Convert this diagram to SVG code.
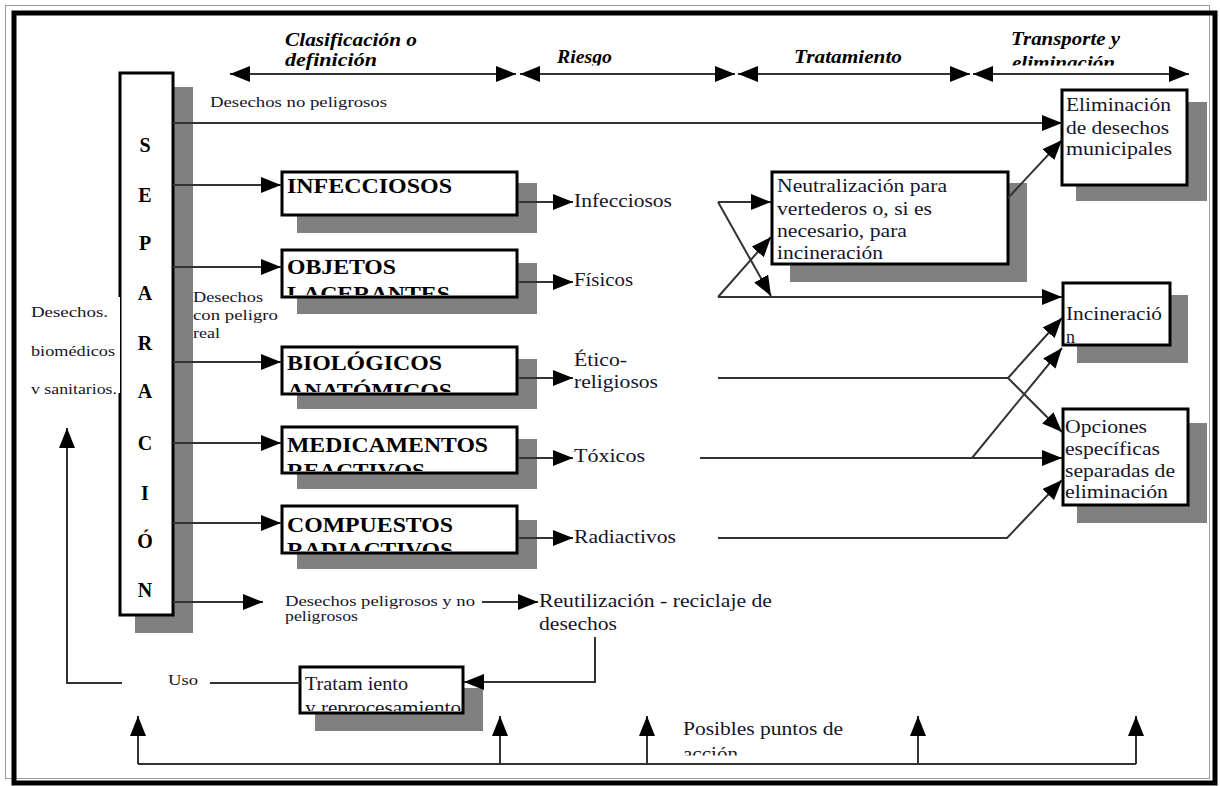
<svg xmlns="http://www.w3.org/2000/svg" width="1220" height="786" viewBox="0 0 1220 786">
  <style>
    .bx { fill: #fff; stroke: #000; stroke-width: 3; }
    .sh { fill: #808080; }
    .t { font-family: "Liberation Serif", "Times New Roman", serif; fill: #15152a; }
    .r15 { font-size: 15px; }
    .r18 { font-size: 18px; }
    .r19 { font-size: 19px; }
    .bb { font-family: "Liberation Serif", "Times New Roman", serif; font-weight: bold; font-size: 21px; fill: #000; }
    .hd { font-family: "Liberation Serif", "Times New Roman", serif; font-weight: bold; font-style: italic; font-size: 18px; fill: #000; }
    .ln { fill: none; stroke: #333; stroke-width: 2; }
    .ar { marker-end: url(#ah); }
    .dbl { marker-start: url(#ah); marker-end: url(#ah); }
  </style>
  <defs>
    <marker id="ah" viewBox="0 0 20 16" refX="20" refY="8" markerWidth="20" markerHeight="16" markerUnits="userSpaceOnUse" orient="auto-start-reverse">
      <path d="M0,0 L20,8 L0,16 Z" fill="#000"/>
    </marker>
    <clipPath id="clipHead"><rect x="0" y="0" width="1220" height="65.5"/></clipPath>
    <clipPath id="clipObj"><rect x="282" y="250" width="235" height="45"/></clipPath>
    <clipPath id="clipBio"><rect x="282" y="347" width="235" height="45"/></clipPath>
    <clipPath id="clipMed"><rect x="282" y="427" width="235" height="44"/></clipPath>
    <clipPath id="clipCom"><rect x="282" y="506" width="235" height="45"/></clipPath>
    <clipPath id="clipTrat"><rect x="300" y="667" width="163" height="44"/></clipPath>
    <clipPath id="clipAcc"><rect x="600" y="700" width="300" height="55.5"/></clipPath>
  </defs>

  <rect x="0" y="0" width="1220" height="786" fill="#fff"/>

  <!-- page frame -->
  <g id="frame">
    <rect x="5.5" y="5.5" width="1204" height="773" fill="none" stroke="#9a9a9a" stroke-width="1"/>
    <rect x="14" y="13" width="1201" height="770" fill="none" stroke="#000" stroke-width="5"/>
  </g>

  <!-- column headings -->
  <g id="headings">
    <text class="hd" x="285" y="46" textLength="132" lengthAdjust="spacingAndGlyphs">Clasificación o</text>
    <text class="hd" x="285" y="66" textLength="92" lengthAdjust="spacingAndGlyphs">definición</text>
    <g clip-path="url(#clipHead)">
      <text class="hd" x="557" y="63" textLength="55" lengthAdjust="spacingAndGlyphs">Riesgo</text>
      <text class="hd" x="794" y="63" textLength="108" lengthAdjust="spacingAndGlyphs">Tratamiento</text>
      <text class="hd" x="1011" y="45" textLength="109" lengthAdjust="spacingAndGlyphs">Transporte y</text>
      <text class="hd" x="1012" y="69" textLength="103" lengthAdjust="spacingAndGlyphs">eliminación</text>
    </g>
  </g>

  <!-- separation column -->
  <g id="separacion">
    <rect class="sh" x="135" y="87" width="58" height="546"/>
    <rect class="bx" x="120" y="73" width="53" height="542"/>
    <g class="bb" text-anchor="middle" style="font-size:20px">
      <text x="145" y="152">S</text>
      <text x="145" y="202">E</text>
      <text x="145" y="250">P</text>
      <text x="145" y="300">A</text>
      <text x="145" y="350">R</text>
      <text x="145" y="398">A</text>
      <text x="145" y="450">C</text>
      <text x="145" y="500">I</text>
      <text x="145" y="548">Ó</text>
      <text x="145" y="597">N</text>
    </g>
  </g>

  <g id="label-biomedicos">
    <rect x="26" y="297" width="94" height="96" fill="#fff"/>
    <text class="t r15" x="31" y="317" textLength="77" lengthAdjust="spacingAndGlyphs">Desechos.</text>
    <text class="t r15" x="31" y="356" textLength="84" lengthAdjust="spacingAndGlyphs">biomédicos</text>
    <text class="t r15" x="31" y="394" textLength="86" lengthAdjust="spacingAndGlyphs">v sanitarios.</text>
  </g>

  <g id="label-no-peligrosos">
    <text class="t r15" x="210" y="107" textLength="177" lengthAdjust="spacingAndGlyphs">Desechos no peligrosos</text>
  </g>

  <g id="label-peligro-real">
    <text class="t r15" x="193" y="302" textLength="70" lengthAdjust="spacingAndGlyphs">Desechos</text>
    <text class="t r15" x="193" y="320" textLength="85" lengthAdjust="spacingAndGlyphs">con peligro</text>
    <text class="t r15" x="193" y="338" textLength="27" lengthAdjust="spacingAndGlyphs">real</text>
  </g>

  <!-- classification boxes -->
  <g id="infecciosos">
    <rect class="sh" x="297" y="183" width="240" height="50"/>
    <rect class="bx" x="282" y="172" width="235" height="43"/>
    <text class="bb" x="287" y="193" textLength="165" lengthAdjust="spacingAndGlyphs">INFECCIOSOS</text>
  </g>
  <g id="objetos">
    <rect class="sh" x="297" y="263" width="240" height="51"/>
    <rect class="bx" x="282" y="250" width="235" height="47"/>
    <g clip-path="url(#clipObj)">
      <text class="bb" x="287" y="274" textLength="109" lengthAdjust="spacingAndGlyphs">OBJETOS</text>
      <text class="bb" x="287" y="301" textLength="163" lengthAdjust="spacingAndGlyphs">LACERANTES</text>
    </g>
  </g>
  <g id="biologicos">
    <rect class="sh" x="297" y="359" width="240" height="50"/>
    <rect class="bx" x="282" y="347" width="235" height="47"/>
    <g clip-path="url(#clipBio)">
      <text class="bb" x="287" y="370" textLength="155" lengthAdjust="spacingAndGlyphs">BIOLÓGICOS</text>
      <text class="bb" x="287" y="398" textLength="165" lengthAdjust="spacingAndGlyphs">ANATÓMICOS</text>
    </g>
  </g>
  <g id="medicamentos">
    <rect class="sh" x="297" y="439" width="240" height="50"/>
    <rect class="bx" x="282" y="427" width="235" height="46"/>
    <g clip-path="url(#clipMed)">
      <text class="bb" x="287" y="452" textLength="201" lengthAdjust="spacingAndGlyphs">MEDICAMENTOS</text>
      <text class="bb" x="287" y="478" textLength="138" lengthAdjust="spacingAndGlyphs">REACTIVOS</text>
    </g>
  </g>
  <g id="compuestos">
    <rect class="sh" x="297" y="520" width="240" height="49"/>
    <rect class="bx" x="282" y="506" width="235" height="47"/>
    <g clip-path="url(#clipCom)">
      <text class="bb" x="287" y="532" textLength="166" lengthAdjust="spacingAndGlyphs">COMPUESTOS</text>
      <text class="bb" x="287" y="557" textLength="166" lengthAdjust="spacingAndGlyphs">RADIACTIVOS</text>
    </g>
  </g>

  <!-- risk labels -->
  <g id="riesgo-infecciosos"><text class="t r19" x="574" y="207" textLength="98" lengthAdjust="spacingAndGlyphs">Infecciosos</text></g>
  <g id="riesgo-fisicos"><text class="t r19" x="574" y="286" textLength="59" lengthAdjust="spacingAndGlyphs">Físicos</text></g>
  <g id="riesgo-etico">
    <text class="t r19" x="574" y="366" textLength="53" lengthAdjust="spacingAndGlyphs">Ético-</text>
    <text class="t r19" x="574" y="388" textLength="84" lengthAdjust="spacingAndGlyphs">religiosos</text>
  </g>
  <g id="riesgo-toxicos"><text class="t r19" x="574" y="462" textLength="71" lengthAdjust="spacingAndGlyphs">Tóxicos</text></g>
  <g id="riesgo-radiactivos"><text class="t r19" x="574" y="543" textLength="102" lengthAdjust="spacingAndGlyphs">Radiactivos</text></g>

  <!-- treatment -->
  <g id="neutralizacion">
    <rect class="sh" x="790" y="183" width="237" height="99"/>
    <rect class="bx" x="772" y="172" width="236" height="92"/>
    <text class="t r18" x="777" y="192" textLength="170" lengthAdjust="spacingAndGlyphs">Neutralización para</text>
    <text class="t r18" x="777" y="215" textLength="155" lengthAdjust="spacingAndGlyphs">vertederos o, si es</text>
    <text class="t r18" x="777" y="237" textLength="130" lengthAdjust="spacingAndGlyphs">necesario, para</text>
    <text class="t r18" x="777" y="259" textLength="106" lengthAdjust="spacingAndGlyphs">incineración</text>
  </g>

  <!-- disposal -->
  <g id="eliminacion-municipal">
    <rect class="sh" x="1076" y="102" width="131" height="99"/>
    <rect class="bx" x="1062" y="90" width="125" height="95"/>
    <text class="t r18" x="1066" y="111" textLength="105" lengthAdjust="spacingAndGlyphs">Eliminación</text>
    <text class="t r18" x="1066" y="134" textLength="103" lengthAdjust="spacingAndGlyphs">de desechos</text>
    <text class="t r18" x="1066" y="155" textLength="106" lengthAdjust="spacingAndGlyphs">municipales</text>
  </g>
  <g id="incineracion">
    <rect class="sh" x="1077" y="295" width="111" height="68"/>
    <rect class="bx" x="1063" y="283" width="107" height="62"/>
    <text class="t r18" x="1066" y="320" textLength="96" lengthAdjust="spacingAndGlyphs">Incineració</text>
    <text class="t r18" x="1066" y="343">n</text>
  </g>
  <g id="opciones">
    <rect class="sh" x="1077" y="423" width="130" height="100"/>
    <rect class="bx" x="1063" y="409" width="125" height="96"/>
    <text class="t r18" x="1065" y="433" textLength="82" lengthAdjust="spacingAndGlyphs">Opciones</text>
    <text class="t r18" x="1065" y="455" textLength="95" lengthAdjust="spacingAndGlyphs">específicas</text>
    <text class="t r18" x="1065" y="477" textLength="110" lengthAdjust="spacingAndGlyphs">separadas de</text>
    <text class="t r18" x="1065" y="498" textLength="103" lengthAdjust="spacingAndGlyphs">eliminación</text>
  </g>

  <!-- reuse loop -->
  <g id="label-mixtos">
    <text class="t r15" x="285" y="606" textLength="190" lengthAdjust="spacingAndGlyphs">Desechos peligrosos y no</text>
    <text class="t r15" x="285" y="621" textLength="73" lengthAdjust="spacingAndGlyphs">peligrosos</text>
  </g>
  <g id="reutilizacion">
    <text class="t r18" x="539" y="607" textLength="233" lengthAdjust="spacingAndGlyphs">Reutilización - reciclaje de</text>
    <text class="t r18" x="539" y="630" textLength="78" lengthAdjust="spacingAndGlyphs">desechos</text>
  </g>
  <g id="tratamiento">
    <rect class="sh" x="315" y="688" width="168" height="43"/>
    <rect class="bx" x="300" y="667" width="163" height="46"/>
    <g clip-path="url(#clipTrat)">
      <text class="t r18" x="305" y="690" textLength="103" lengthAdjust="spacingAndGlyphs">Tratam iento</text>
      <text class="t r18" x="305" y="714" textLength="156" lengthAdjust="spacingAndGlyphs">y reprocesamiento</text>
    </g>
  </g>
  <g id="label-uso">
    <text class="t r15" x="168" y="685" textLength="30" lengthAdjust="spacingAndGlyphs">Uso</text>
  </g>
  <g id="label-puntos">
    <text class="t r18" x="683" y="735" textLength="160" lengthAdjust="spacingAndGlyphs">Posibles puntos de</text>
    <g clip-path="url(#clipAcc)">
      <text class="t r18" x="683" y="760" textLength="55" lengthAdjust="spacingAndGlyphs">acción</text>
    </g>
  </g>

  <!-- connectors -->
  <g id="connectors">
    <!-- heading spans -->
    <line class="ln dbl" x1="230" y1="74" x2="516" y2="74"/>
    <line class="ln dbl" x1="520" y1="74" x2="735" y2="74"/>
    <line class="ln dbl" x1="738" y1="74" x2="970" y2="74"/>
    <line class="ln dbl" x1="973" y1="74" x2="1189" y2="74"/>

    <!-- from separation -->
    <line class="ln ar" x1="173" y1="123" x2="1062" y2="123"/>
    <line class="ln ar" x1="173" y1="185" x2="281" y2="185"/>
    <line class="ln ar" x1="173" y1="267" x2="281" y2="267"/>
    <line class="ln ar" x1="173" y1="362" x2="281" y2="362"/>
    <line class="ln ar" x1="173" y1="443" x2="281" y2="443"/>
    <line class="ln ar" x1="173" y1="523" x2="281" y2="523"/>
    <line class="ln ar" x1="173" y1="602" x2="263" y2="602"/>

    <!-- boxes to risks -->
    <line class="ln ar" x1="519" y1="202" x2="573" y2="202"/>
    <line class="ln ar" x1="519" y1="282" x2="573" y2="282"/>
    <line class="ln ar" x1="519" y1="378" x2="573" y2="378"/>
    <line class="ln ar" x1="519" y1="458" x2="573" y2="458"/>
    <line class="ln ar" x1="519" y1="538" x2="573" y2="538"/>

    <!-- infectious / physical crossing -->
    <line class="ln ar" x1="718" y1="202" x2="771" y2="202"/>
    <line class="ln ar" x1="718" y1="202" x2="771" y2="296"/>
    <line class="ln ar" x1="718" y1="297" x2="771" y2="237"/>
    <line class="ln ar" x1="718" y1="297" x2="1062" y2="297"/>
    <line class="ln ar" x1="1008" y1="198" x2="1062" y2="140"/>

    <!-- ethical-religious -->
    <line class="ln" x1="718" y1="378" x2="1008" y2="378"/>
    <line class="ln ar" x1="1008" y1="378" x2="1062" y2="318"/>
    <line class="ln ar" x1="1008" y1="378" x2="1062" y2="432"/>

    <!-- toxic -->
    <line class="ln ar" x1="700" y1="458" x2="1062" y2="458"/>
    <line class="ln ar" x1="972" y1="458" x2="1062" y2="348"/>

    <!-- radioactive -->
    <polyline class="ln ar" points="718,538 1007,538 1062,480"/>

    <!-- reuse loop -->
    <line class="ln ar" x1="482" y1="602" x2="538" y2="602"/>
    <polyline class="ln ar" points="595,637 595,682 464,682"/>
    <line class="ln" x1="210" y1="683" x2="300" y2="683"/>
    <polyline class="ln ar" points="122,683 67,683 67,428"/>

    <!-- action points -->
    <line class="ln" x1="138" y1="764" x2="1136" y2="764"/>
    <line class="ln ar" x1="138" y1="764" x2="138" y2="716"/>
    <line class="ln ar" x1="500" y1="764" x2="500" y2="716"/>
    <line class="ln ar" x1="647" y1="764" x2="647" y2="716"/>
    <line class="ln ar" x1="918" y1="764" x2="918" y2="716"/>
    <line class="ln ar" x1="1136" y1="764" x2="1136" y2="716"/>
  </g>
</svg>
